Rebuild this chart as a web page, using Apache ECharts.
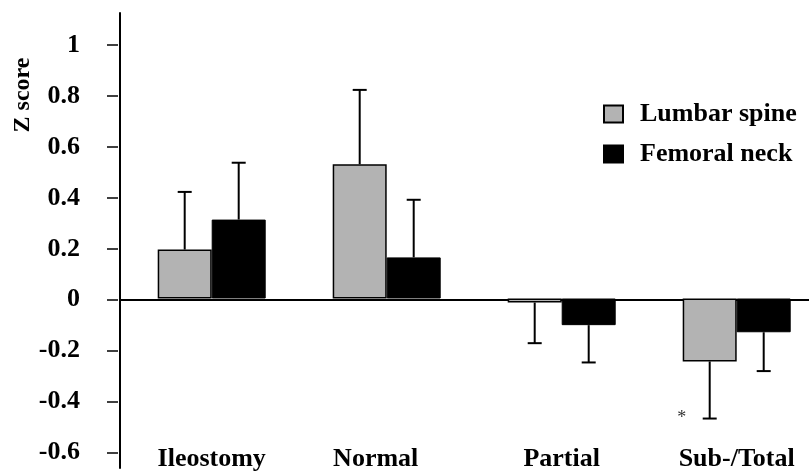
<!DOCTYPE html>
<html>
<head>
<meta charset="utf-8">
<script src="https://cdn.jsdelivr.net/npm/echarts@6/dist/echarts.min.js"></script>
<style>
  html, body { margin: 0; padding: 0; background: #fff; }
  #chart { width: 809px; height: 472px; }
</style>
</head>
<body>
<div id="chart"></div>
<script>
// ---- data ----
const categories = ['Ileostomy', 'Normal', 'Partial', 'Sub-/Total'];
const lumbarSpine = [0.193, 0.529, -0.016, -0.248];
const lumbarSpineSD = [0.227, 0.293, 0.160, 0.225];
const femoralNeck = [0.311, 0.162, -0.105, -0.133];
const femoralNeckSD = [0.224, 0.227, 0.147, 0.153];
const yTicks = [-0.6, -0.4, -0.2, 0, 0.2, 0.4, 0.6, 0.8, 1];
const yRange = [-0.66, 1.125];
const seriesNames = ['Lumbar spine', 'Femoral neck'];
const yAxisTitle = 'Z score';
const annotations = [{ category: 'Sub-/Total', value: -0.447, text: '*' }];

// ---- styling ----
const FONT = "'Liberation Serif', 'Times New Roman', serif";
const BAR_W = 54;
const GRID_TOP = 13, GRID_BOTTOM = 4;

function errData(vals, sds) {
  return vals.map((v, i) => [i, v, v >= 0 ? v + sds[i] : v - sds[i]]);
}

function errRender(offset) {
  return function (params, api) {
    const cat = api.value(0);
    const start = api.coord([cat, api.value(1)]);
    const end = api.coord([cat, api.value(2)]);
    const x = start[0] + offset;
    const half = 7;
    return {
      type: 'group',
      children: [
        { type: 'line', shape: { x1: x, y1: start[1], x2: x, y2: end[1] },
          style: { stroke: '#000', lineWidth: 2 } },
        { type: 'line', shape: { x1: x - half, y1: end[1], x2: x + half, y2: end[1] },
          style: { stroke: '#000', lineWidth: 2 } }
      ]
    };
  };
}

const chart = echarts.init(document.getElementById('chart'), null, { renderer: 'canvas' });

const option = {
  animation: false,
  backgroundColor: '#fff',
  textStyle: { fontFamily: FONT },
  grid: [
    { left: 120, right: 0, top: GRID_TOP, bottom: GRID_BOTTOM, containLabel: false },
    { left: 211.7, right: 72.3, top: GRID_TOP, bottom: GRID_BOTTOM, containLabel: false }
  ],
  xAxis: [
    { gridIndex: 0, type: 'category', data: categories,
      axisLine: { show: true, onZero: true, lineStyle: { color: '#000', width: 2 } },
      axisTick: { show: false }, axisLabel: { show: false }, splitLine: { show: false } },
    { gridIndex: 1, type: 'category', boundaryGap: false,
      data: categories.map(c => c === 'Normal'
        ? { value: c, textStyle: { padding: [0, 22, 0, 0] } } : c),
      axisLine: { show: false }, axisTick: { show: false }, splitLine: { show: false },
      axisLabel: { inside: true, margin: -6, fontFamily: FONT, fontWeight: 'bold',
                   fontSize: 26, color: '#000' } }
  ],
  yAxis: [
    { gridIndex: 0, type: 'value', position: 'left', min: yRange[0], max: yRange[1],
      axisLine: { show: true, lineStyle: { color: '#000', width: 2 } },
      axisTick: { show: false }, axisLabel: { show: false }, splitLine: { show: false } },
    { gridIndex: 0, type: 'value', position: 'left', min: yRange[0], max: yRange[1], offset: 2,
      axisLine: { show: false },
      axisTick: { show: true, customValues: yTicks, length: 11, lineStyle: { color: '#000', width: 1.5 } },
      axisLabel: { show: true, customValues: yTicks, margin: 38, fontFamily: FONT,
                   fontWeight: 'bold', fontSize: 26, color: '#000',
                   formatter: v => String(+v.toFixed(2)) },
      splitLine: { show: false } },
    { gridIndex: 1, type: 'value', position: 'left', min: yRange[0], max: yRange[1], show: false,
      splitLine: { show: false } }
  ],
  legend: {
    orient: 'vertical', left: 603, top: 101, padding: 0, itemWidth: 19, itemHeight: 17, itemGap: 14,
    icon: 'rect',
    data: seriesNames,
    textStyle: { fontFamily: FONT, fontWeight: 'bold', fontSize: 26, color: '#000',
                 lineHeight: 26, padding: [0, 0, 0, 12] }
  },
  graphic: [
    { type: 'text', x: 11, y: 95, rotation: Math.PI / 2,
      style: { text: yAxisTitle, font: "bold 24px 'Liberation Serif', serif", fill: '#000',
               align: 'center', verticalAlign: 'top' } }
  ],
  series: [
    { name: seriesNames[0], type: 'bar', xAxisIndex: 1, yAxisIndex: 2, data: lumbarSpine,
      barWidth: BAR_W, barGap: '0%', clip: false,
      itemStyle: { color: '#b3b3b3', borderColor: '#000', borderWidth: 1.5 } },
    { name: seriesNames[1], type: 'bar', xAxisIndex: 1, yAxisIndex: 2, data: femoralNeck,
      barWidth: BAR_W, barGap: '0%', clip: false,
      itemStyle: { color: '#000', borderColor: '#000', borderWidth: 1 } },
    { type: 'custom', xAxisIndex: 1, yAxisIndex: 2, data: errData(lumbarSpine, lumbarSpineSD),
      renderItem: errRender(-BAR_W / 2), z: 3, silent: true, clip: false },
    { type: 'custom', xAxisIndex: 1, yAxisIndex: 2, data: errData(femoralNeck, femoralNeckSD),
      renderItem: errRender(BAR_W / 2), z: 3, silent: true, clip: false },
    { type: 'custom', xAxisIndex: 1, yAxisIndex: 2, clip: false,
      data: annotations.map(a => [categories.indexOf(a.category), a.value, a.text]),
      renderItem: function (params, api) {
        const p = api.coord([api.value(0), api.value(1)]);
        return { type: 'text', x: p[0] - BAR_W - 1, y: p[1] + 6,
          style: { text: annotations[params.dataIndex].text,
                   font: "18px 'Liberation Serif', serif", fill: '#333',
                   align: 'center', verticalAlign: 'middle' } };
      }, z: 4, silent: true }
  ]
};
chart.setOption(option);
</script>
</body>
</html>
